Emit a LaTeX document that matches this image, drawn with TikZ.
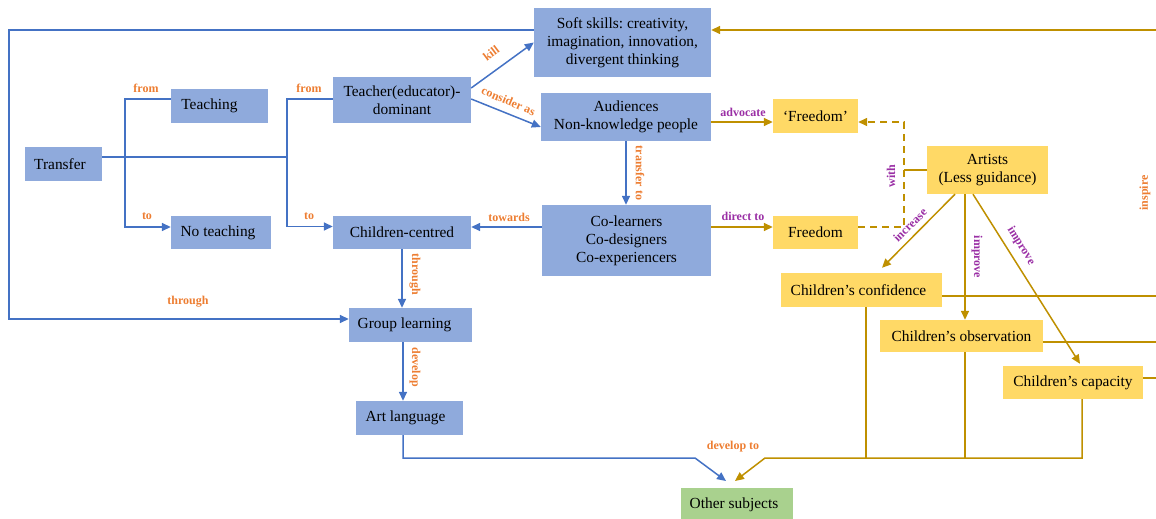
\documentclass[tikz,border=0pt]{standalone}
\usepackage{fontspec}
\setmainfont{Liberation Serif}
\usetikzlibrary{arrows.meta}
\definecolor{boxblue}{HTML}{8FAADC}
\definecolor{boxgold}{HTML}{FFD966}
\definecolor{boxgreen}{HTML}{A9D18E}
\definecolor{lineblue}{HTML}{4472C4}
\definecolor{linegold}{HTML}{BF9000}
\definecolor{labelorange}{HTML}{ED7D31}
\definecolor{labelpurple}{HTML}{9A2FA5}
\frenchspacing
\begin{document}
\begin{tikzpicture}[x=1pt,y=-1pt,
  box/.style={rectangle, inner sep=0pt, align=center, text=black,
    font=\fontsize{15.4}{18}\selectfont},
  bluebox/.style={box, fill=boxblue},
  goldbox/.style={box, fill=boxgold},
  greenbox/.style={box, fill=boxgreen},
  bl/.style={draw=lineblue, line width=1.5pt},
  gd/.style={draw=linegold, line width=1.5pt},
  tip/.style={-{Triangle[length=9pt,width=8pt]}},
  lbl/.style={inner sep=0pt, font=\fontsize{12}{13}\selectfont\bfseries},
  lbo/.style={lbl, text=labelorange},
  lbp/.style={lbl, text=labelpurple},
]
\useasboundingbox (0,0) rectangle (1156,519);
\clip (0,0) rectangle (1156,519);

% ---------- boxes ----------
\node[bluebox, minimum width=77pt, minimum height=34pt] (transfer) at (63.5,164) {Transfer\hspace*{7pt}};
\node[bluebox, minimum width=97pt, minimum height=34pt] (teaching) at (219.5,106) {Teaching\hspace*{20pt}};
\node[bluebox, minimum width=100pt, minimum height=33pt] (noteach) at (221,232.5) {No teaching\hspace*{6pt}};
\node[bluebox, minimum width=138pt, minimum height=46pt] (teacher) at (402,100) {Teacher(educator)-\\dominant};
\node[bluebox, minimum width=138pt, minimum height=33pt] (child) at (402,232.5) {Children-centred};
\node[bluebox, minimum width=177pt, minimum height=69pt] (soft) at (622.5,42.5) {Soft skills: creativity,\\imagination, innovation,\\divergent thinking};
\node[bluebox, minimum width=170pt, minimum height=48pt] (aud) at (626,117) {Audiences\\Non-knowledge people};
\node[bluebox, minimum width=169pt, minimum height=71pt] (colearn) at (626.5,240.5) {Co-learners\\Co-designers\\Co-experiencers};
\node[bluebox, minimum width=123pt, minimum height=34pt] (group) at (410.5,325) {Group learning\hspace*{12pt}};
\node[bluebox, minimum width=107pt, minimum height=34pt] (art) at (409.5,418) {Art language\hspace*{8pt}};
\node[goldbox, minimum width=85pt, minimum height=34pt] (fq) at (815.5,116) {‘Freedom’};
\node[goldbox, minimum width=85pt, minimum height=33pt] (fr) at (815.5,232.5) {Freedom};
\node[goldbox, minimum width=121pt, minimum height=48pt] (artists) at (987.5,170) {Artists\\(Less guidance)};
\node[goldbox, minimum width=161pt, minimum height=34pt] (conf) at (861.5,290) {Children’s confidence\hspace*{6pt}};
\node[goldbox, minimum width=163pt, minimum height=32pt] (obs) at (961.5,336) {Children’s observation};
\node[goldbox, minimum width=140pt, minimum height=33pt] (cap) at (1073,382.5) {Children’s capacity};
\node[greenbox, minimum width=112pt, minimum height=34pt] (other) at (737,505) {Other subjects\hspace*{6pt}};

% ---------- helper coordinates ----------
\coordinate (j1) at (125,157);
\coordinate (j2) at (287,157);
\coordinate (leftrail) at (9,319);
\coordinate (spine) at (1162,30);
\coordinate (dashx) at (904,0);
\coordinate (bus) at (0,458);
\coordinate (blueturn) at (695,458);
\coordinate (goldturn) at (765,458);
\coordinate (bluetip) at (726,481);
\coordinate (goldtip) at (735,481);

% ---------- blue connectors ----------
\draw[bl] ([yshift=7pt]transfer.east) -- (j2);
\draw[bl,tip] ([yshift=7pt]teaching.west) -| (j1) |- ([yshift=5.5pt]noteach.west);
\draw[bl,tip] ([yshift=1pt]teacher.west) -| (j2) |- ([yshift=6pt]child.west);
\draw[bl,tip] ([yshift=12pt]teacher.east) -- (soft.west);
\draw[bl,tip] ([yshift=1pt]teacher.east) -- ([yshift=-10pt]aud.west);
\draw[bl,tip] (aud.south) -- (aud.south |- colearn.north);
\coordinate (tw) at ([yshift=13.5pt]colearn.west);
\draw[bl,tip] (tw) -- (tw -| child.east);
\draw[bl,tip] (child.south) -- (child.south |- group.north);
\coordinate (dv) at ([xshift=-7.5pt]group.south);
\draw[bl,tip] (dv) -- (dv |- art.north);
\draw[bl,tip] ([yshift=12.5pt]soft.west) -| (leftrail) -- ([yshift=6pt]group.west);
\draw[bl,tip] ([xshift=-6.5pt]art.south) |- (blueturn) -- (bluetip);

% ---------- gold connectors ----------
\coordinate (adv) at ([yshift=-5pt]aud.east);
\draw[gd,tip] (adv) -- (adv -| fq.west);
\coordinate (dir) at ([yshift=13.5pt]colearn.east);
\draw[gd,tip] (dir) -- (dir -| fr.west);
\coordinate (fqin) at ([yshift=-6pt]fq.east);
\draw[gd,tip,dash pattern=on 7pt off 5pt] ([yshift=5.5pt]fr.east) -| (dashx |- fqin) -- (fqin);
\draw[gd] (artists.west) -- (artists.west -| dashx);
\draw[gd,tip] ([xshift=-32.5pt]artists.south) -- ([xshift=20.5pt,yshift=5pt]conf.north);
\coordinate (im) at ([xshift=-22.5pt]artists.south);
\draw[gd,tip] (im) -- (im |- obs.north);
\draw[gd,tip] ([xshift=-14.5pt]artists.south) -- ([xshift=7pt,yshift=2pt]cap.north);
% inspire rail
\coordinate (c1) at ([yshift=-6pt]conf.east);
\coordinate (c2) at ([yshift=-6pt]obs.east);
\coordinate (c3) at ([yshift=4.5pt]cap.east);
\draw[gd,tip] (c1) -| (spine) -- ([yshift=12.5pt]soft.east);
\draw[gd] (c2) -- (c2 -| spine);
\draw[gd] (c3) -- (c3 -| spine);
% develop-to bus
\coordinate (d1) at ([xshift=4.5pt]conf.south);
\coordinate (d2) at ([xshift=3.5pt]obs.south);
\draw[gd] (d1) -- (d1 |- bus);
\draw[gd] (d2) -- (d2 |- bus);
\draw[gd,tip] ([xshift=9pt]cap.south) |- (goldturn) -- (goldtip);

% ---------- labels ----------
\node[lbo] (lfrom1) at (146,88) {from};
\node[lbo] (lfrom2) at (309,88) {from};
\node[lbo] (lto1) at (147,216) {to};
\node[lbo] (lto2) at (309,216) {to};
\node[lbo, rotate=37] (lkill) at (491,53) {kill};
\node[lbo, rotate=-23] (lconsider) at (508.5,101) {consider as};
\node[lbo, rotate=-90] (ltransfer) at (640,173) {transfer to};
\node[lbo] (ltowards) at (509,217) {towards};
\node[lbo, rotate=-90] (lthrough1) at (415,274.5) {through};
\node[lbo, rotate=-90] (ldevelop) at (415,367) {develop};
\node[lbo] (lthrough2) at (188,302) {through};
\node[lbo] (ldevto) at (733,447) {develop to};
\node[lbo, rotate=90] (linspire) at (1145,193) {inspire};
\node[lbp] (ladvocate) at (743,112) {advocate};
\node[lbp] (ldirect) at (743,216) {direct to};
\node[lbp, rotate=90] (lwith) at (891,176) {with};
\node[lbp, rotate=44.6] (lincrease) at (910,225) {increase};
\node[lbp, rotate=-90] (limprove1) at (977,257) {improve};
\node[lbp, rotate=-58] (limprove2) at (1021,246) {improve};
\end{tikzpicture}
\end{document}
